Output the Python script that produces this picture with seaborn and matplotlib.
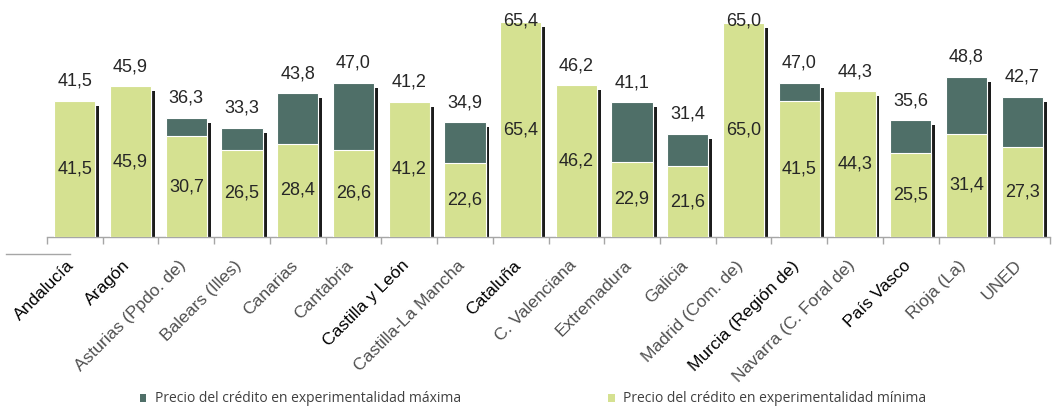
import matplotlib
matplotlib.use("Agg")
import matplotlib.pyplot as plt
import matplotlib.transforms as mtransforms
import seaborn as sns
import numpy as np
import pandas as pd
from matplotlib.lines import Line2D
from matplotlib.patches import Patch

regiones = ["Andalucía", "Aragón", "Asturias (Ppdo. de)", "Balears (Illes)", "Canarias",
            "Cantabria", "Castilla y León", "Castilla-La Mancha", "Cataluña", "C. Valenciana",
            "Extremadura", "Galicia", "Madrid (Com. de)", "Murcia (Región de)",
            "Navarra (C. Foral de)", "País Vasco", "Rioja (La)", "UNED"]
precio_min = [41.5, 45.9, 30.7, 26.5, 28.4, 26.6, 41.2, 22.6, 65.4, 46.2, 22.9, 21.6, 65.0, 41.5, 44.3, 25.5, 31.4, 27.3]
precio_max = [41.5, 45.9, 36.3, 33.3, 43.8, 47.0, 41.2, 34.9, 65.4, 46.2, 41.1, 31.4, 65.0, 47.0, 44.3, 35.6, 48.8, 42.7]
destacadas = ["Andalucía", "Aragón", "Castilla y León", "Cataluña", "Murcia (Región de)", "País Vasco"]

df = pd.DataFrame({"region": regiones, "minimo": precio_min, "maximo": precio_max})

verde_claro = "#d5e191"
verde_oscuro = "#4f6f68"

fig = plt.figure(figsize=(10.59, 4.07), dpi=100)
ax = fig.add_axes([47 / 1059, 1 - 237 / 407, (1050 - 47) / 1059, 230 / 407])

x = np.arange(len(df))
# sombra negra a la derecha de cada barra
ax.bar(x + 0.405, df["maximo"] - 1.5, width=0.07, color="#1c1c1c", zorder=1)
sns.barplot(data=df, x="region", y="maximo", color=verde_oscuro, width=0.74,
            saturation=1, edgecolor="white", linewidth=0.8, ax=ax, zorder=2)
sns.barplot(data=df, x="region", y="minimo", color=verde_claro, width=0.74,
            saturation=1, edgecolor="white", linewidth=0.8, ax=ax, zorder=3)

for i, row in df.iterrows():
    ax.text(i, row["minimo"] / 2, f"{row['minimo']:.1f}".replace(".", ","),
            ha="center", va="center", fontsize=13, color="#262626",
            family="Liberation Sans", zorder=5)
    ytop = min(row["maximo"] + 5.9, 65.8)
    ax.text(i, ytop, f"{row['maximo']:.1f}".replace(".", ","),
            ha="center", va="center", fontsize=13, color="#262626",
            family="Liberation Sans", zorder=5)

ax.set_xlim(-0.5, len(df) - 0.5)
ax.set_ylim(0, 70)
ax.set_xlabel("")
ax.set_ylabel("")
ax.set_yticks([])
for s in ["top", "right", "left"]:
    ax.spines[s].set_visible(False)
ax.spines["bottom"].set_color("#a6a6a6")
ax.spines["bottom"].set_linewidth(1)

ax.set_xticks(x)
ax.set_xticks(np.arange(-0.5, len(df), 1), minor=True)
ax.tick_params(axis="x", which="major", length=0, pad=15)
ax.tick_params(axis="x", which="minor", length=5, color="#a6a6a6", width=1)
ax.set_xticklabels(regiones, rotation=45, ha="right", rotation_mode="anchor",
                   fontsize=12.6, family="Liberation Sans")
desplaza = mtransforms.ScaledTranslation(-8 / 100, 0, fig.dpi_scale_trans)
for lab in ax.get_xticklabels():
    lab.set_transform(lab.get_transform() + desplaza)
    if lab.get_text() in destacadas:
        lab.set_color("black")
    else:
        lab.set_color("#505050")

fig.add_artist(Line2D([6 / 1059, 70 / 1059], [1 - 254 / 407, 1 - 254 / 407],
                      color="#a6a6a6", linewidth=1))

handles = [Patch(facecolor=verde_oscuro, edgecolor="none"),
           Patch(facecolor=verde_claro, edgecolor="none")]
fig.legend(handles, ["Precio del crédito en experimentalidad máxima",
                     "Precio del crédito en experimentalidad mínima"],
           loc="center left", bbox_to_anchor=(127 / 1059, 1 - 399 / 407), ncol=2,
           frameon=False, handlelength=0.5, handleheight=0.5, handletextpad=0.6,
           columnspacing=10.6, prop={"family": "Open Sans", "size": 10},
           labelcolor="#404040")

fig.savefig("out.png", dpi=100)
